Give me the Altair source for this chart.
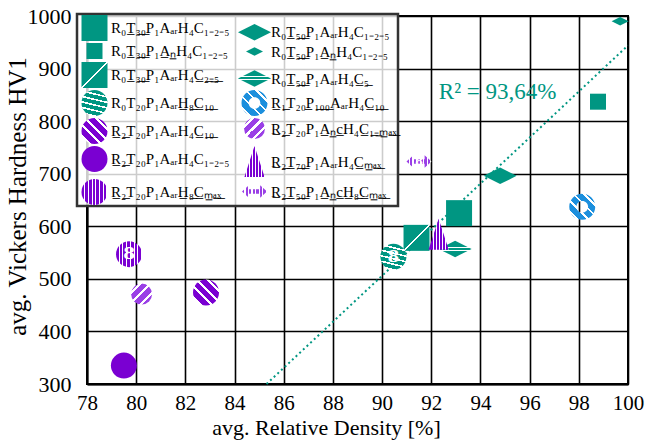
import altair as alt
import pandas as pd

# ---------------- data (legend order: left column, then right column) ----------------
codes = [
    "R0T30P1AArH4C1-2-5", "R0T30P1ANH4C1-2-5", "R0T30P1AArH4C2-5",
    "R0T20P1AArH8C10", "R2T20P1AArH4C10", "R2T20P1AArH4C1-2-5",
    "R2T20P1AArH8Cmax",
    "R0T50P1AArH4C1-2-5", "R0T50P1ANH4C1-2-5", "R0T50P1AArH4C5",
    "R1T20P100AArH4C10", "R2T20P1ANcH4C1-max", "R2T70P1AArH4Cmax",
    "R2T50P1ANcH8Cmax",
]


def u(s):
    return "".join(c + "\u0332" for c in s)


labels = [
    "R₀" + u("T₃₀") + "P₁AₐᵣH₄C₁₋₂₋₅",
    "R₀" + u("T₃₀") + "P₁" + u("Aₙ") + "H₄C₁₋₂₋₅",
    "R₀" + u("T₃₀") + "P₁AₐᵣH₄" + u("C₂₋₅"),
    "R₀T₂₀P₁Aₐᵣ" + u("H₈C₁₀"),
    u("R₂") + "T₂₀P₁AₐᵣH₄" + u("C₁₀"),
    u("R₂") + "T₂₀P₁AₐᵣH₄C₁₋₂₋₅",
    u("R₂") + "T₂₀P₁Aₐᵣ" + u("H₈Cₘₐₓ"),
    "R₀" + u("T₅₀") + "P₁AₐᵣH₄C₁₋₂₋₅",
    "R₀" + u("T₅₀") + "P₁" + u("Aₙ") + "H₄C₁₋₂₋₅",
    "R₀" + u("T₅₀") + "P₁AₐᵣH₄" + u("C₅"),
    u("R₁") + "T₂₀" + u("P₁₀₀") + "AₐᵣH₄" + u("C₁₀"),
    u("R₂") + "T₂₀P₁" + u("Aₙc") + "H₄" + u("C₁₋ₘₐₓ"),
    u("R₂") + u("T₇₀") + "P₁AₐᵣH₄" + u("Cₘₐₓ"),
    u("R₂") + u("T₅₀") + "P₁" + u("Aₙc") + u("H₈Cₘₐₓ"),
]

density = [93.13, 98.78, 91.4, 90.46, 82.84, 79.5, 79.71,
           94.8, 99.68, 92.97, 98.14, 80.22, 92.3, 91.5]
hardness = [625, 837, 578, 542, 474, 335, 547,
            696, 990, 557, 637, 471, 585, 723]

trend_density = [85.3, 100.0]
trend_hardness = [300, 944]

r2_label = ["R² = 93,64%"]
r2_density = [94.7]
r2_hardness = [856]

x_ticks = list(range(78, 101, 2))
y_ticks = list(range(300, 1001, 100))

# ---------------- styles ----------------
TEAL = "#009682"
PURPLE = "#7A00D2"
LPURPLE = "#9A3FE6"
BLUE = "#1C8FDD"


def stripes(color, n, white, x1, y1, x2, y2, bg="white"):
    stops = []
    p = 1.0 / n
    for i in range(n):
        a = i * p
        b = a + p * (1 - white)
        stops += [
            {"offset": round(a, 4), "color": color},
            {"offset": round(b, 4), "color": color},
            {"offset": round(b, 4), "color": bg},
            {"offset": round(a + p, 4), "color": bg},
        ]
    return {"gradient": "linear", "x1": x1, "y1": y1, "x2": x2, "y2": y2,
            "stops": stops}


def bands(color, marks, x1, y1, x2, y2):
    stops = [{"offset": 0, "color": color}]
    for a, b in marks:
        stops += [{"offset": a, "color": color}, {"offset": a, "color": "white"},
                  {"offset": b, "color": "white"}, {"offset": b, "color": color}]
    stops.append({"offset": 1, "color": color})
    return {"gradient": "linear", "x1": x1, "y1": y1, "x2": x2, "y2": y2,
            "stops": stops}


EPS = 0.000001
DIAMOND = "M-1,0L0,-0.5L1,0L0,0.5Z"
TRIANGLE = "M0,-1L0.65,1L-0.65,1Z"
ARROWS = ("M-1,0L-0.45,-0.5L-0.45,-0.18L0.45,-0.18L0.45,-0.5L1,0"
          "L0.45,0.5L0.45,0.18L-0.45,0.18L-0.45,0.5Z")
RING = ("M-1,0A1,1,0,1,1,1,0A1,1,0,1,1,-1,0Z"
        "M-0.45,0A0.45,0.45,0,1,0,0.45,0A0.45,0.45,0,1,0,-0.45,0Z")

shapes = ["square", "square", "square", "circle", "circle", "circle", "circle",
          DIAMOND, DIAMOND, DIAMOND, RING, "circle", TRIANGLE, ARROWS]
sizes = [676, 256, 676, 676, 676, 676, 676,
         1089, 289, 1089, 676, 441, 961, 625]
fills = [
    TEAL,
    TEAL,
    bands(TEAL, [(0.485, 0.515)], 0, 0, 1, 1),
    stripes(TEAL, 5, 0.3, 0.62, 0, 0.38, 1),
    stripes(PURPLE, 5, 0.28, 0, 1, 1, 0),
    PURPLE,
    stripes(PURPLE, 7, 0.3, 0, 0, 1, EPS),
    TEAL,
    TEAL,
    bands(TEAL, [(0.36, 0.42), (0.56, 0.62)], 0.5, 0, 0.5 + EPS, 1),
    stripes(BLUE, 5, 0.22, 0, 1, 1, 0),
    stripes(LPURPLE, 4, 0.3, 0, 0, 1, 1),
    stripes(PURPLE, 7, 0.3, 0, 0, 1, EPS),
    stripes(LPURPLE, 7, 0.35, 0, 0, 1, EPS),
]

# ---------------- tables ----------------
df = pd.DataFrame({"label": labels, "code": codes, "density": density,
                   "hardness": hardness, "index": list(range(len(labels)))})
trend = pd.DataFrame({"density": trend_density, "hardness": trend_hardness})
r2 = pd.DataFrame({"t": r2_label, "density": r2_density, "hardness": r2_hardness})

p_fill = alt.param(name="pfill", value=fills)

FONT = "Liberation Serif"

axis_style = dict(labelFont=FONT, labelColor="black",
                  titleFont=FONT, titleFontWeight="normal",
                  titleColor="black", labelFlush=False, format="d")

xenc = alt.X("density:Q", scale=alt.Scale(domain=[78, 100], nice=False, zero=False),
             axis=alt.Axis(values=x_ticks, title="avg. Relative Density [%]",
                           labelFontSize=21, labelPadding=8, titleFontSize=22,
                           titleX=239, titleY=50, titleBaseline="alphabetic",
                           **axis_style))
yenc = alt.Y("hardness:Q", scale=alt.Scale(domain=[300, 1000], nice=False, zero=False),
             axis=alt.Axis(values=y_ticks, title="avg. Vickers Hardness HV1",
                           labelFontSize=22, labelPadding=16, titleFontSize=25,
                           titleX=-70, titleY=180, titleBaseline="middle",
                           **axis_style))

legend = alt.Legend(
    title=None, orient="none", legendX=-10, legendY=-2, columns=2,
    labelFont=FONT, labelFontSize=15, labelColor="black", labelLimit=400,
    columnPadding=8, rowPadding=2, padding=1, labelOffset=0,
    fillColor="rgba(255,255,255,0.8)", strokeColor="#333333",
    symbolOpacity=1, symbolStrokeWidth=0,
    symbolFillColor=alt.ExprRef("pfill[datum.index]"),
)

points = alt.Chart(df).mark_point(
    filled=True, opacity=1, strokeWidth=0,
    fill=alt.ExprRef("pfill[datum.index]"),
).encode(
    x=xenc, y=yenc,
    shape=alt.Shape("label:N", scale=alt.Scale(domain=labels, range=shapes), legend=legend),
    size=alt.Size("label:N", scale=alt.Scale(type="ordinal", domain=labels, range=sizes),
                  legend=legend),
)

glyph_big = alt.Chart(df).transform_filter(
    "indexof(datum.code, 'H8') >= 0 && indexof(datum.code, 'ANc') < 0"
).mark_text(color="white", fontWeight="bold", fontSize=17, font="DejaVu Serif",
            baseline="middle").encode(x=xenc, y=yenc, text=alt.value("8"))

glyph_small = alt.Chart(df).transform_filter(
    "indexof(datum.code, 'H8') >= 0 && indexof(datum.code, 'ANc') >= 0"
).mark_text(color="white", fontWeight="bold", fontSize=11, font="DejaVu Serif",
            baseline="middle").encode(x=xenc, y=yenc, text=alt.value("8"))

line = alt.Chart(trend).mark_line(color=TEAL, strokeDash=[2, 3], strokeWidth=2).encode(
    x=xenc, y=yenc)

r2_text = alt.Chart(r2).mark_text(color=TEAL, font=FONT, fontSize=23,
                                  baseline="middle").encode(x=xenc, y=yenc, text="t:N")

chart = alt.layer(line, points, glyph_big, glyph_small, r2_text).add_params(
    p_fill
).properties(
    width=541, height=368,
    padding={"left": 87, "top": 16, "right": 21, "bottom": 57},
    autosize=alt.AutoSizeParams(type="none"),
).configure_view(
    stroke="black", strokeWidth=2
).configure_axis(
    gridColor="black", gridWidth=1.6, gridOpacity=1,
    domainColor="black", domainWidth=2, ticks=False,
).configure_legend(
    strokeWidth=2.5
)

chart.save("out.html", embed_options={"renderer": "svg", "actions": False})
